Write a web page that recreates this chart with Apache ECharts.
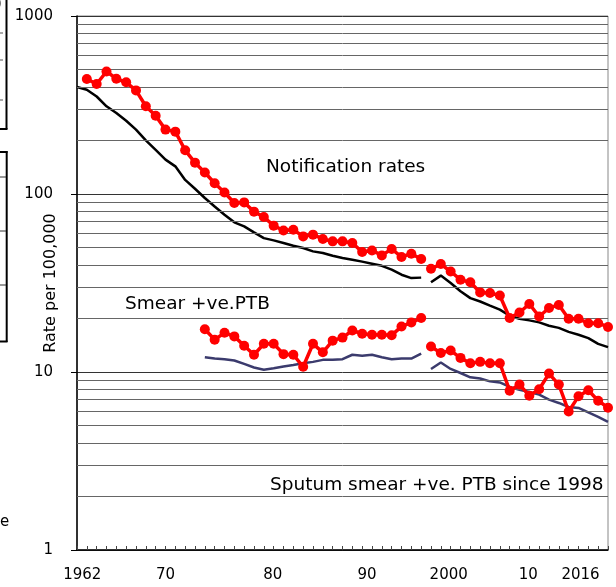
<!DOCTYPE html>
<html><head><meta charset="utf-8">
<script src="https://cdn.jsdelivr.net/npm/echarts@6/dist/echarts.min.js"></script>
<style>html,body{margin:0;padding:0;background:#fff}#c{width:616px;height:587px}</style>
</head><body><div id="c"></div>
<script>
// Categories (1997 not present on the axis; first slot is 1961 for the reference line)
const years = ['1961','1962','1963','1964','1965','1966','1967','1968','1969','1970','1971','1972','1973','1974','1975','1976','1977','1978','1979','1980','1981','1982','1983','1984','1985','1986','1987','1988','1989','1990','1991','1992','1993','1994','1995','1996','1998','1999','2000','2001','2002','2003','2004','2005','2006','2007','2008','2009','2010','2011','2012','2013','2014','2015','2016'];

// Notification rates (red dots), 1962-1996
const notifOld = [443,415,488,444,424,382,311,275,230,224,176,150,132,115,102,89,89.7,79.6,74.3,66.4,62.4,63.0,57.8,59.1,55.9,54.2,54.2,53.1,47.2,48.2,45.2,49.1,44.3,46.2,43.1];
// Reference line (black), 1961-1996
const refOld = [399,385,353,311,285,258,230,200,177,156,143,120,107,95,85,76.5,69.3,65.8,60.9,56.5,54.9,53.1,51.2,49.7,47.6,46.6,45.0,43.7,42.7,41.7,40.6,39.5,37.6,35.2,33.7,33.9];
// Smear +ve PTB (red dots), 1974-1996
const smearOld = [17.4,15.2,16.6,15.85,14.05,12.5,14.4,14.4,12.6,12.5,10.7,14.4,12.9,15.0,15.6,17.1,16.4,16.2,16.2,16.1,18.0,19.0,20.1];
// Smear reference line (dark blue), 1974-1996
const smearRefOld = [12.1,11.9,11.8,11.6,11.1,10.6,10.3,10.5,10.75,10.95,11.2,11.4,11.7,11.7,11.8,12.5,12.35,12.5,12.1,11.8,11.9,11.9,12.7];
// Since 1998
const notifNew = [38.0,40.4,36.7,33.0,31.9,28.0,27.8,26.9,20.1,21.6,24.1,20.5,22.9,23.8,19.9,19.9,18.8,18.8,17.9];
const refNew = [31.9,34.8,31.6,28.4,26.0,24.9,23.6,22.4,20.7,19.9,19.5,19.0,18.2,17.7,16.8,16.2,15.5,14.4,13.8];
const sputumNew = [13.9,12.8,13.2,12.0,11.2,11.4,11.2,11.2,7.85,8.5,7.36,8.0,9.8,8.5,6.0,7.3,7.9,6.9,6.3];
const sputumRefNew = [10.4,11.3,10.4,9.87,9.33,9.2,8.86,8.74,8.24,7.95,7.72,7.46,6.99,6.70,6.36,6.28,5.93,5.59,5.24];

// Axis texts
const xTickLabels = ['1962','70','80','90','2000','10','2016'];
const minorGridValues = [2,3,4,5,6,7,8,9,20,30,40,50,60,70,80,90,200,300,400,500,600,700,800,900];
const yAxisTitle = 'Rate per 100,000';
const annotations = ['Notification rates','Smear +ve.PTB','Sputum smear +ve. PTB since 1998'];

// ---- layout (not data) ----
const xLabelSlots = [0.54, 9.0, 19.9, 29.5, 37.8, 45.9, 51.2];
const FONT = 'DejaVu Sans';

function place(startYear, values) {
  const out = years.map(() => null);
  const s = years.indexOf(startYear);
  values.forEach((v, i) => { out[s + i] = v; });
  return out;
}

const chart = echarts.init(document.getElementById('c'), null, {renderer: 'canvas'});

const redStyle = {
  type: 'line', xAxisIndex: 0, yAxisIndex: 0,
  symbol: 'circle', symbolSize: 10, showAllSymbol: true,
  connectNulls: false, z: 5,
  itemStyle: {color: '#ff0000'},
  lineStyle: {color: '#ff0000', width: 3.5},
  emphasis: {disabled: true}
};
const lineStyleSeries = (color) => ({
  type: 'line', xAxisIndex: 0, yAxisIndex: 0,
  symbol: 'none', connectNulls: false, z: 4,
  lineStyle: {color: color, width: 2.5},
  emphasis: {disabled: true}
});

const fragLine = (x1, y1, x2, y2, w, c) => ({
  type: 'line', silent: true, z: 100,
  shape: {x1, y1, x2, y2},
  style: {stroke: c || '#000', lineWidth: w || 2}
});

chart.setOption({
  animation: false,
  backgroundColor: '#fff',
  textStyle: {fontFamily: FONT},
  grid: {left: 77, right: 8, top: 16, bottom: 37, containLabel: false, outerBoundsMode: 'none',
         show: true, borderColor: '#888', borderWidth: 1, backgroundColor: 'transparent'},
  xAxis: [{
    type: 'category', data: years, boundaryGap: false,
    axisLine: {show: true, lineStyle: {color: '#000', width: 1.5}},
    axisTick: {show: true, inside: true, length: 4, interval: 0, lineStyle: {color: '#444'}},
    axisLabel: {show: false},
    splitLine: {show: false}
  }, {
    type: 'value', min: 0, max: years.length - 1, position: 'bottom',
    axisLine: {show: false}, axisTick: {show: false}, splitLine: {show: false},
    axisLabel: {
      show: true, customValues: xLabelSlots, margin: 18,
      fontSize: 15, fontFamily: FONT, color: '#000',
      formatter: function (v) {
        const i = xLabelSlots.findIndex(s => Math.abs(s - v) < 1e-6);
        return i >= 0 ? xTickLabels[i] : '';
      }
    }
  }],
  yAxis: {
    type: 'log', logBase: 10, min: 1, max: 1000,
    name: yAxisTitle, nameLocation: 'middle', nameGap: 18, nameMoveOverlap: false,
    nameTextStyle: {fontSize: 16, fontFamily: FONT, color: '#000'},
    axisLine: {show: true, lineStyle: {color: '#000', width: 1.5}},
    axisTick: {show: true, inside: false, length: 6, lineStyle: {color: '#000'}},
    axisLabel: {fontSize: 15, fontFamily: FONT, color: '#000', margin: 24,
                formatter: function (v) { return String(Math.round(v)); }},
    splitLine: {show: true, lineStyle: {color: '#333', width: 1}},
    minorTick: {show: false}
  },
  series: [
    {
      type: 'line', xAxisIndex: 0, yAxisIndex: 0, data: years.map(() => null),
      symbol: 'none', silent: true, z: 1,
      markLine: {
        silent: true, symbol: ['none', 'none'], animation: false,
        label: {show: false},
        lineStyle: {color: '#666666', width: 1, type: 'solid'},
        emphasis: {disabled: true},
        data: minorGridValues.map(v => ({yAxis: v}))
      }
    },
    Object.assign(lineStyleSeries('#000000'), {name: 'refOld', data: place('1961', refOld)}),
    Object.assign(lineStyleSeries('#000000'), {name: 'refNew', data: place('1998', refNew)}),
    Object.assign(lineStyleSeries('#3b3b6d'), {name: 'smearRefOld', data: place('1974', smearRefOld)}),
    Object.assign(lineStyleSeries('#3b3b6d'), {name: 'sputumRefNew', data: place('1998', sputumRefNew)}),
    Object.assign({}, redStyle, {name: 'notifOld', data: place('1962', notifOld)}),
    Object.assign({}, redStyle, {name: 'notifNew', data: place('1998', notifNew)}),
    Object.assign({}, redStyle, {name: 'smearOld', data: place('1974', smearOld)}),
    Object.assign({}, redStyle, {name: 'sputumNew', data: place('1998', sputumNew)})
  ],
  graphic: [
    {type: 'text', left: 266, top: 158, z: 50, silent: true,
     style: {text: annotations[0], font: '18.5px "' + FONT + '"', fill: '#000'}},
    {type: 'text', left: 125, top: 295, z: 50, silent: true,
     style: {text: annotations[1], font: '18.5px "' + FONT + '"', fill: '#000'}},
    {type: 'text', left: 270, top: 476, z: 50, silent: true,
     style: {text: annotations[2], font: '18.5px "' + FONT + '"', fill: '#000'}},
    // fragments of a neighbouring panel cut off at the left edge
    fragLine(6.5, 0, 6.5, 129, 2),
    fragLine(0, 129, 7.5, 129, 2),
    fragLine(0, 33, 3, 33, 2, '#aaa'),
    fragLine(0, 60, 3, 60, 2, '#aaa'),
    fragLine(0, 100, 3, 100, 2, '#aaa'),
    {type: 'text', left: -4, top: -3, z: 100, silent: true,
     style: {text: ')', font: '15px "' + FONT + '"', fill: '#000'}},
    fragLine(0, 152, 7.5, 152, 2),
    fragLine(6.7, 151, 6.7, 342, 2),
    fragLine(0, 341.5, 7.5, 341.5, 2),
    fragLine(0, 177, 6, 177, 1, '#333'),
    fragLine(0, 231, 6, 231, 1, '#333'),
    fragLine(0, 285, 6, 285, 1, '#333'),
    {type: 'text', left: 0, top: 515, z: 100, silent: true,
     style: {text: 'e', font: '15px "' + FONT + '"', fill: '#000'}}
  ]
});
</script>
</body></html>
